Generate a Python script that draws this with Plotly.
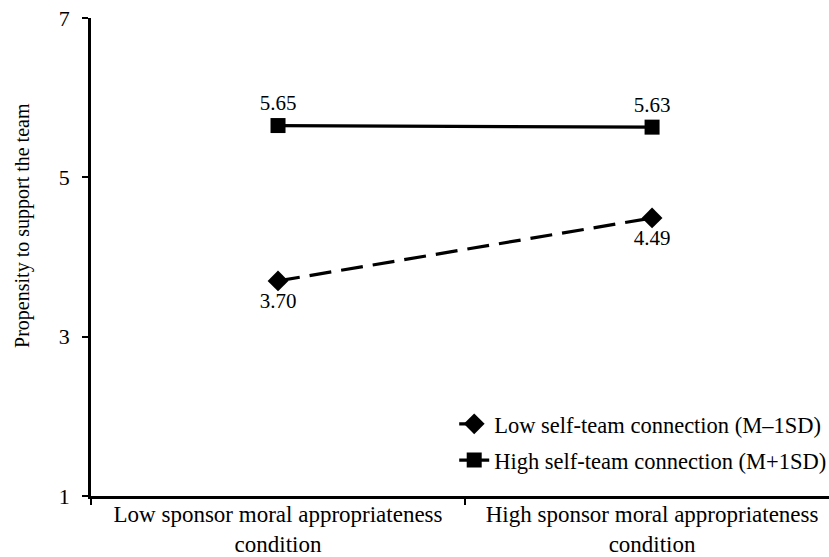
import plotly.graph_objects as go

categories = ["Low sponsor moral appropriateness<br>condition",
              "High sponsor moral appropriateness<br>condition"]
low_conn = [3.70, 4.49]
high_conn = [5.65, 5.63]
low_name = "Low self-team connection (M\u20131SD)"
high_name = "High self-team connection (M+1SD)"
y_ticks = [1, 3, 5, 7]
y_title = "Propensity to support the team"

FONT = "'Liberation Serif', 'Times New Roman', 'DejaVu Serif', serif"

fig = go.Figure()
fig.add_trace(go.Scatter(
    x=categories, y=low_conn, name=low_name, mode="lines+markers+text",
    legendgroup="a",
    line=dict(color="black", width=3.2, dash="22px,10px"),
    marker=dict(symbol="diamond", size=16, color="black"),
    text=[f"{v:.2f}" for v in low_conn], textposition="bottom center",
    textfont=dict(family=FONT, size=21, color="black"),
))
fig.add_trace(go.Scatter(
    x=categories, y=high_conn, name=high_name, mode="lines+markers+text",
    legendgroup="b",
    line=dict(color="black", width=3.2),
    marker=dict(symbol="square", size=15, color="black"),
    text=[f"{v:.2f}" for v in high_conn], textposition="top center",
    textfont=dict(family=FONT, size=21, color="black"),
))

fig.update_layout(
    width=829, height=557,
    margin=dict(l=91, r=0, t=18, b=61, autoexpand=False),
    plot_bgcolor="white", paper_bgcolor="white",
    font=dict(family=FONT, size=21, color="black"),
    showlegend=True,
    legend=dict(x=1.003, xanchor="right", y=0.03, yanchor="bottom",
                font=dict(family=FONT, size=22.5, color="black"),
                bgcolor="rgba(0,0,0,0)", tracegroupgap=4),
    annotations=[dict(text=y_title, xref="paper", yref="paper", x=0, y=0.565,
                      xanchor="center", yanchor="middle",
                      xshift=-68, textangle=-90, showarrow=False,
                      font=dict(family=FONT, size=20, color="black"))],
)
fig.update_xaxes(
    type="category", range=[-0.5, 1.473], automargin=False,
    showline=True, linecolor="black", linewidth=2.5,
    ticks="outside", tickson="boundaries", ticklen=6, tickcolor="black", tickwidth=1.5,
    ticklabelstandoff=-4,
    showgrid=False, zeroline=False,
    tickfont=dict(family=FONT, size=23, color="black"),
)
fig.update_yaxes(
    range=[1, 7], tickvals=y_ticks, automargin=False,
    showline=True, linecolor="black", linewidth=2.5,
    ticks="outside", ticklen=6, tickcolor="black", tickwidth=1.5,
    ticklabelstandoff=8,
    showgrid=False, zeroline=False,
    tickfont=dict(family=FONT, size=22, color="black"),
)

fig.write_html("out.html", config={"displayModeBar": False},
               post_script="document.body.style.margin='0';document.body.style.padding='0';")
